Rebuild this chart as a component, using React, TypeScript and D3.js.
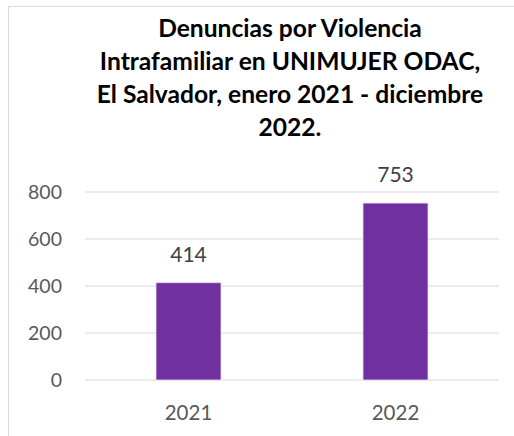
import { useEffect, useRef } from "react";
import * as d3 from "d3";

const categories = ["2021", "2022"];
const values = [414, 753];
const yTicks = [0, 200, 400, 600, 800];
const titleLines = [
    "Denuncias por Violencia",
    "Intrafamiliar en UNIMUJER ODAC,",
    "El Salvador, enero 2021 - diciembre",
    "2022.",
];

const App = () => {
    const svgRef: any = useRef<SVGSVGElement>(null);

    useEffect(() => {
        const WIDTH = 514;
        const HEIGHT = 436;
        const svg = d3.select(svgRef.current);
        svg.selectAll("*").remove();

        const font = "Lato, 'Open Sans', sans-serif";

        // chart area border (cropped at right/bottom)
        svg.append("rect")
            .attr("x", 8.5)
            .attr("y", 6.5)
            .attr("width", WIDTH + 20)
            .attr("height", HEIGHT + 20)
            .attr("fill", "#fff")
            .attr("stroke", "#d9d9d9");

        // title
        svg.append("g")
            .selectAll("text")
            .data(titleLines)
            .join("text")
            .attr("x", 290)
            .attr("y", (d, i) => 37 + i * 33)
            .attr("text-anchor", "middle")
            .attr("font-family", font)
            .attr("font-weight", "bold")
            .attr("font-size", 24.6)
            .attr("fill", "#000")
            .text((d) => d);

        const x = d3.scaleBand().domain(categories).range([85, 499]).paddingInner(0.686).paddingOuter(0.343);
        const y = d3.scaleLinear().domain([0, 800]).range([380, 192]);

        // gridlines
        svg.append("g")
            .selectAll("line")
            .data(yTicks)
            .join("line")
            .attr("x1", 85)
            .attr("x2", 499)
            .attr("y1", (d) => y(d))
            .attr("y2", (d) => y(d))
            .attr("stroke", "#d9d9d9")
            .attr("stroke-width", 1.2);

        // y tick labels
        svg.append("g")
            .selectAll("text")
            .data(yTicks)
            .join("text")
            .attr("x", 62)
            .attr("y", (d) => y(d) + 7)
            .attr("text-anchor", "end")
            .attr("font-family", font)
            .attr("font-size", 19.5)
            .attr("fill", "#595959")
            .text((d) => d);

        // bars
        svg.append("g")
            .selectAll("rect")
            .data(values)
            .join("rect")
            .attr("x", (d, i) => x(categories[i]))
            .attr("y", (d) => y(d))
            .attr("width", x.bandwidth())
            .attr("height", (d) => y(0) - y(d))
            .attr("fill", "#7030a0")
            .attr("stroke", "#e8dff0")
            .attr("stroke-width", 0.8);

        // data labels
        svg.append("g")
            .selectAll("text")
            .data(values)
            .join("text")
            .attr("x", (d, i) => (x(categories[i]) as number) + x.bandwidth() / 2)
            .attr("y", (d) => y(d) - 21)
            .attr("text-anchor", "middle")
            .attr("font-family", font)
            .attr("font-size", 21)
            .attr("fill", "#404040")
            .text((d) => d);

        // x labels
        svg.append("g")
            .selectAll("text")
            .data(categories)
            .join("text")
            .attr("x", (d) => (x(d) as number) + x.bandwidth() / 2)
            .attr("y", 420)
            .attr("text-anchor", "middle")
            .attr("font-family", font)
            .attr("font-size", 20.5)
            .attr("fill", "#595959")
            .text((d) => d);
    }, []);

    return (
        <svg
            ref={svgRef}
            width={514}
            height={436}
            style={{ position: "absolute", top: 0, left: 0, background: "#fff" }}
        />
    );
};

export default App;
